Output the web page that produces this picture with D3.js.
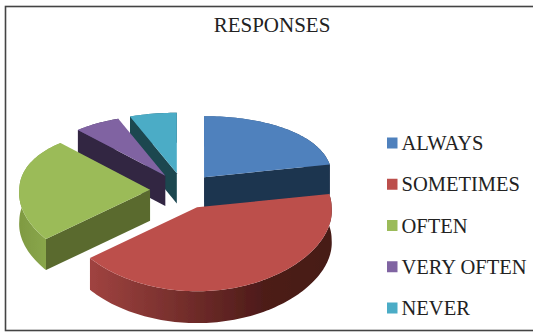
<!DOCTYPE html>
<html><head><meta charset="utf-8">
<style>html,body{margin:0;padding:0;background:#fff}svg{display:block}text{font-family:"Liberation Serif",serif;fill:#222}</style>
<script src="https://cdn.jsdelivr.net/npm/d3@7"></script></head>
<body><div id="c"></div>
<script>
const categories = ["ALWAYS","SOMETIMES","OFTEN","VERY OFTEN","NEVER"];
const values = [22,42,24,6,6];
const topColors = ["#4f81bd","#bc4f4c","#9bbb59","#8064a2","#4bacc6"];
const cutColors = ["#1f344f","#5a1f1d","#5a6b2f","#312543","#1c4650"];
const wallLeft  = ["#3f6794","#a04340","#7f9a42","#66508a","#3c8aa0"];
const wallRight = ["#1f344f","#461a18","#8fad4f","#312543","#1c4650"];
const title = "RESPONSES";

const W=533,H=332;
const svg=d3.select("#c").append("svg").attr("width",W).attr("height",H);
const defs=svg.append("defs");
defs.append("filter").attr("id","soft").append("feGaussianBlur").attr("stdDeviation",0.45);

svg.append("rect").attr("x",5.5).attr("y",6.5).attr("width",W+10).attr("height",324)
  .attr("fill","#fff").attr("stroke","#444").attr("stroke-width",1.6);
svg.append("text").attr("x",272).attr("y",32).attr("text-anchor","middle").attr("font-size",21).text(title);

const pie=d3.pie().sort(null).value(d=>d).startAngle(0).endAngle(2*Math.PI);
const arcs=pie(values);
const color=d3.scaleOrdinal(categories,topColors);

// projection of the tilted pie
const cx=183,cy=191,ex=33,ey=18,rx0=131,ry0=70.8,persp=0.134,perspX=0.05,depth0=31,q=0.03;
function geom(a){
  const mid=(a.startAngle+a.endAngle)/2;
  const ax=cx+ex*Math.sin(mid), ay=cy-ey*Math.cos(mid);
  const s=1-q*Math.cos(mid);
  const p=(t)=>{const c=Math.cos(t),d=1+persp*c,dx=1+perspX*Math.min(0,c);
    return [ax+s*rx0*Math.sin(t)/dx, ay-s*ry0*c/d];};
  const h=depth0*s;
  return {ax,ay,p,h,s};
}
const line=d3.line();
const order=[0,4,3,2,1];
const G=svg.append("g").attr("filter","url(#soft)");
order.forEach(i=>{
  const a=arcs[i],g=geom(a),n=Math.max(8,Math.round((a.endAngle-a.startAngle)*40));
  const ts=d3.range(n+1).map(k=>a.startAngle+(a.endAngle-a.startAngle)*k/n);
  const rim=ts.map(g.p);
  const down=([x,y])=>[x,y+g.h];
  // outer wall
  const xs=d3.extent(rim,d=>d[0]);
  const gid="w"+i;
  const lg=defs.append("linearGradient").attr("id",gid).attr("gradientUnits","userSpaceOnUse")
    .attr("x1",xs[0]).attr("x2",xs[1]).attr("y1",0).attr("y2",0);
  lg.append("stop").attr("offset",0).attr("stop-color",wallLeft[i]);
  if(i===1) lg.append("stop").attr("offset",0.72).attr("stop-color","#4d1b19");
  lg.append("stop").attr("offset",1).attr("stop-color",wallRight[i]);
  G.append("path").attr("d",line(rim.concat(rim.slice().reverse().map(down)))+"Z").attr("fill",`url(#${gid})`);
  // cut faces that look toward the viewer
  [[a.startAngle,-1],[a.endAngle,1]].forEach(([t,sign])=>{
    if(sign*Math.sin(t)<=1e-6) return;
    const e=g.p(t),o=[g.ax,g.ay];
    G.append("path").attr("d",line([o,e,down(e),down(o)])+"Z").attr("fill",cutColors[i]);
  });
  // top
  G.append("path").attr("d",line([[g.ax,g.ay],...rim])+"Z").attr("fill",color(categories[i]));
});

const ly=d3.scalePoint(categories,[143,308]);
const leg=svg.append("g").selectAll("g").data(categories).join("g").attr("transform",d=>`translate(0,${ly(d)})`);
leg.append("rect").attr("x",387).attr("y",-5.5).attr("width",10.5).attr("height",11).attr("fill",d=>color(d));
leg.append("text").attr("x",401.5).attr("y",7).attr("font-size",20.5).text(d=>d);
</script></body></html>
